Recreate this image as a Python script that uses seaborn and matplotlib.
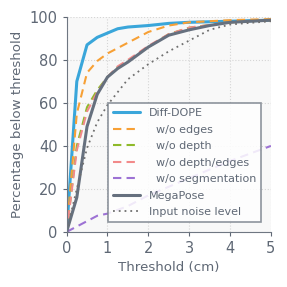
import numpy as np
import matplotlib
matplotlib.use("Agg")
import matplotlib.pyplot as plt
import seaborn as sns
import pandas as pd

#%% data
x_dd = [0, 0.25, 0.5, 0.75, 1, 1.25, 1.5, 2, 2.5, 3, 4, 5]
y_dd = [0, 70, 87, 90.5, 92.5, 94.5, 95.3, 96, 97, 97.5, 98, 98.5]
x_edges = [0, 0.25, 0.5, 0.75, 1, 1.5, 2, 2.5, 3, 4, 5]
y_edges = [0, 55, 74, 79.5, 83, 88, 93, 96, 97.5, 98.5, 99]
x_depth = [0, 0.25, 0.5, 0.75, 1, 1.25, 1.5, 2, 2.5, 3, 4, 5]
y_depth = [0, 40, 58, 66, 72, 76.5, 79.5, 86, 92, 95, 97.5, 98.5]
x_de = [0, 0.25, 0.5, 0.75, 1, 1.25, 1.5, 2, 2.5, 3, 4, 5]
y_de = [0, 38, 56, 65, 72, 77, 80, 86.5, 92, 95, 97.5, 98.5]
x_seg = [0, 0.75, 1, 1.5, 2, 3, 4, 5]
y_seg = [0, 7.5, 8.5, 12, 17, 25, 33, 40]
x_mega = [0, 0.25, 0.5, 0.75, 1, 1.25, 1.5, 2, 2.5, 3, 3.5, 4, 5]
y_mega = [0, 16, 49, 64, 72, 76, 79, 86, 91.5, 94, 96, 97.5, 98.5]
x_noise = [0, 0.25, 0.5, 0.75, 1, 1.25, 1.5, 2, 2.5, 3, 3.5, 4, 5]
y_noise = [0, 20, 39, 51, 59, 65, 71, 78, 84, 89, 94, 96.5, 98]

labels = ['Diff-DOPE', '  w/o edges', '  w/o depth', '  w/o depth/edges',
          '  w/o segmentation', 'MegaPose', 'Input noise level']

#%% style
sns.set_style('ticks')
txt = '#5f6875'
plt.rcParams.update({'text.color': txt, 'axes.labelcolor': txt,
                     'xtick.color': txt, 'ytick.color': txt,
                     'axes.edgecolor': '#6f7782'})
plt.rcParams['font.family'] = ['DejaVu Sans']

fig = plt.figure(figsize=(2.87, 2.87), dpi=100)
ax = fig.add_axes([0.232, 0.192, 0.712, 0.749])
ax.set_facecolor('#f8f8f8')

series = [
    (x_dd, y_dd, '#3aa6da', '-', 2.2),
    (x_edges, y_edges, '#f7a035', (0, (4, 2.5)), 1.5),
    (x_depth, y_depth, '#8fba2a', (0, (4, 2.5)), 1.5),
    (x_de, y_de, '#f28a8a', (0, (4, 2.5)), 1.5),
    (x_seg, y_seg, '#9d72d4', (0, (4, 2.5)), 1.5),
    (x_mega, y_mega, '#66707e', '-', 2.2),
    (x_noise, y_noise, '#6f6f6f', (0, (1, 2.2)), 1.3),
]
for (xs, ys, c, ls, lw), lab in zip(series, labels):
    df = pd.DataFrame({'x': xs, 'y': ys})
    sns.lineplot(data=df, x='x', y='y', color=c, linestyle=ls, linewidth=lw,
                 label=lab, ax=ax)

ax.set_xlim(0, 5)
ax.set_ylim(0, 100)
ax.set_xticks([0, 1, 2, 3, 4, 5])
ax.set_yticks([0, 20, 40, 60, 80, 100])
ax.grid(True, linestyle=':', color='#d5d5d5', linewidth=0.8)
ax.tick_params(labelsize=10.5, length=3)
ax.set_xlabel('Threshold (cm)', fontsize=9.6)
ax.set_ylabel('Percentage below threshold', fontsize=9.6)
for s in ['top', 'right']:
    ax.spines[s].set_visible(False)

leg = ax.legend(loc='lower right', fontsize=8.0, frameon=True, fancybox=False,
                edgecolor='#7a828c', framealpha=0.85, handlelength=2.4,
                borderpad=0.45, labelspacing=0.58, bbox_to_anchor=(0.98, 0.02))
leg.get_frame().set_linewidth(1.2)

fig.savefig('out.png', dpi=100)
